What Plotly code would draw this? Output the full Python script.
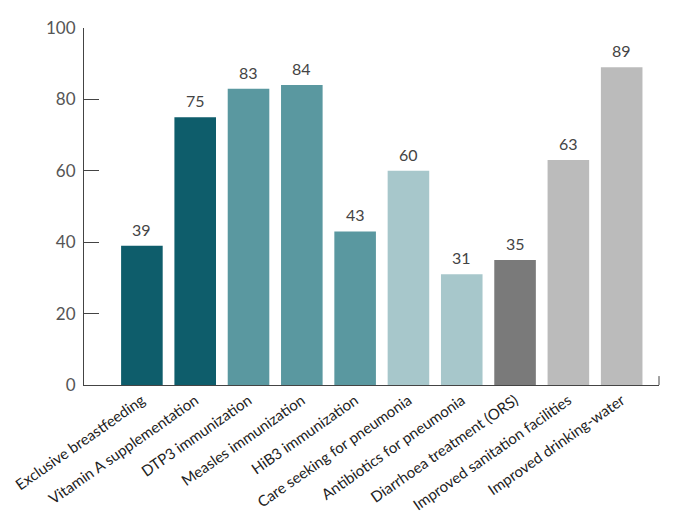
import plotly.graph_objects as go

categories = [
    "Exclusive breastfeeding",
    "Vitamin A supplementation",
    "DTP3 immunization",
    "Measles immunization",
    "HiB3 immunization",
    "Care seeking for pneumonia",
    "Antibiotics for pneumonia",
    "Diarrhoea treatment (ORS)",
    "Improved sanitation facilities",
    "Improved drinking-water",
]
values = [39, 75, 83, 84, 43, 60, 31, 35, 63, 89]
colors = [
    "#0e5d6b", "#0e5d6b",
    "#5a98a0", "#5a98a0", "#5a98a0",
    "#a7c7cb", "#a7c7cb",
    "#7a7a7a",
    "#bbbbbb", "#bbbbbb",
]
y_ticks = [0, 20, 40, 60, 80, 100]

FONT = "Lato, 'Open Sans', sans-serif"

fig = go.Figure()
fig.add_trace(go.Bar(
    x=categories,
    y=values,
    marker=dict(color=colors, line=dict(width=0)),
    width=0.78,
    hoverinfo="skip",
))

for c, v in zip(categories, values):
    fig.add_annotation(
        x=c, y=v, text=str(v), showarrow=False,
        yanchor="bottom", yshift=5,
        font=dict(family=FONT, size=16, color="#444444"),
    )

# small end tick at right of x axis
fig.add_shape(type="line", xref="x domain", yref="y",
              x0=1, x1=1, y0=0, y1=2.5,
              line=dict(color="#444444", width=1))

# page body has an 8px margin, so the figure is sized to fit inside it
fig.update_layout(
    width=676, height=515,
    margin=dict(l=76, r=25, t=20, b=138, autoexpand=False),
    paper_bgcolor="white",
    plot_bgcolor="white",
    showlegend=False,
    font=dict(family=FONT),
    xaxis=dict(
        range=[-1.086, 9.70],
        automargin=False,
        showgrid=False,
        showline=True, linecolor="#444444", linewidth=1,
        ticks="",
        tickangle=-35,
        tickfont=dict(family=FONT, size=15, color="#222222"),
        fixedrange=True,
    ),
    yaxis=dict(
        range=[0, 100],
        automargin=False,
        tickvals=y_ticks,
        showgrid=False,
        zeroline=False,
        showline=True, linecolor="#444444", linewidth=1,
        ticks="inside", ticklen=15, tickcolor="#444444", tickwidth=1,
        tickfont=dict(family=FONT, size=17, color="#555555"),
        ticklabelstandoff=4,
        fixedrange=True,
    ),
)

fig.write_html("out.html")
